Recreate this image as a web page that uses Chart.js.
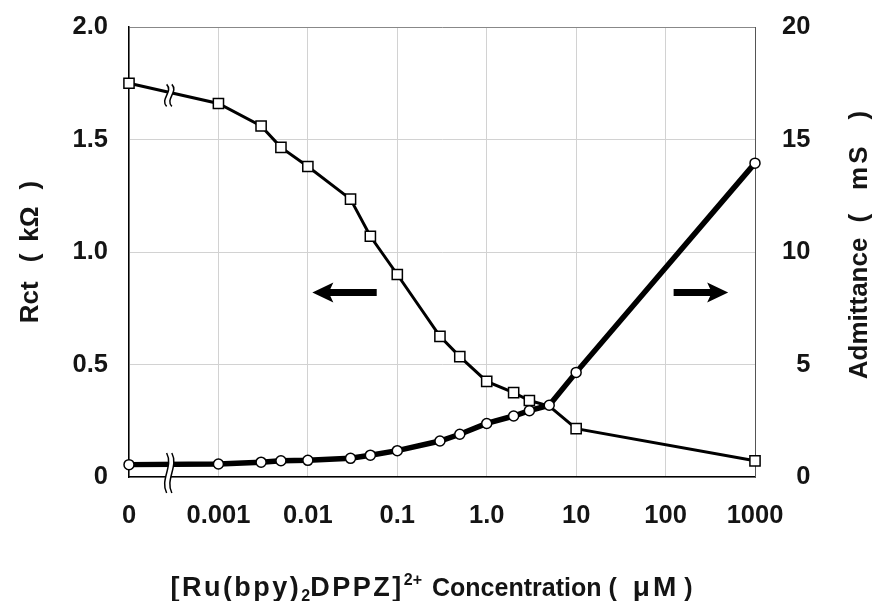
<!DOCTYPE html>
<html><head><meta charset="utf-8">
<script src="https://cdn.jsdelivr.net/npm/chart.js@4.4.1/dist/chart.umd.min.js"></script>
<style>html,body{margin:0;padding:0;background:#fff}#wrap{width:875px;height:601px}</style>
</head><body><div id="wrap"><canvas id="c" width="875" height="601"></canvas></div>
<script>
// ---- data ----
const concentrations = [0, 0.001, 0.003, 0.005, 0.01, 0.03, 0.05, 0.1, 0.3, 0.5, 1, 2, 3, 5, 10, 1000];
const rctValues = [1.75, 1.66, 1.56, 1.465, 1.38, 1.235, 1.07, 0.90, 0.625, 0.535, 0.425, 0.375, 0.34, 0.315, 0.215, 0.072];
const admittanceValues = [0.55, 0.58, 0.66, 0.72, 0.74, 0.83, 0.97, 1.17, 1.6, 1.9, 2.38, 2.71, 2.95, 3.19, 4.65, 13.95];
const xTickLabels = ['0', '0.001', '0.01', '0.1', '1.0', '10', '100', '1000'];

const FONT = "'Liberation Sans', Arial, 'Noto Sans CJK JP', sans-serif";
const TXT = '#141414';
const f = (size) => 'bold ' + size + 'px ' + FONT;

// titles (text pieces; gap = space before the piece in px)
const rctTitle = [
  { t: 'Rct', font: f(26) }, { t: '(', font: f(26), gap: 19 },
  { t: 'kΩ', font: f(26), gap: 12 }, { t: ')', font: f(26), gap: 17 }
];
const admTitle = [
  { t: 'Admittance', font: f(26) }, { t: '(', font: f(26), gap: 15 },
  { t: 'mS', font: f(26), gap: 24, ls: 3 }, { t: ')', font: f(26), gap: 24 }
];
const xTitleLeft = [
  { t: '[Ru(bpy)', font: f(27), ls: 2.5 }, { t: '2', font: f(16), dy: 5 },
  { t: 'DPPZ]', font: f(27), ls: 2.5 }, { t: '2+', font: f(16), dy: -11 }
];
const xTitleRight = [
  { t: 'Concentration', font: f(25) }, { t: '(', font: f(25), gap: 7 },
  { t: 'μM', font: f(28), gap: 16, ls: 3 }, { t: ')', font: f(25), gap: 5 }
];

// axis position: 0 for zero concentration, log10 decades otherwise (axis break between 0 and 0.001)
const toPos = c => c === 0 ? 0 : Math.log10(c) + 4;
const rctPoints = concentrations.map((c, i) => ({ x: toPos(c), y: rctValues[i] }));
const admPoints = concentrations.map((c, i) => ({ x: toPos(c), y: admittanceValues[i] }));

function pieceWidth(ctx, p) {
  ctx.font = p.font;
  ctx.letterSpacing = (p.ls || 0) + 'px';
  return ctx.measureText(p.t).width;
}
function piecesWidth(ctx, pieces) {
  return pieces.reduce((s, p) => s + (p.gap || 0) + pieceWidth(ctx, p), 0);
}
function drawPieces(ctx, pieces, x, y) {
  ctx.textAlign = 'left';
  ctx.fillStyle = TXT;
  for (const p of pieces) {
    x += p.gap || 0;
    const w = pieceWidth(ctx, p);
    ctx.fillText(p.t, x, y + (p.dy || 0));
    x += w;
  }
  ctx.letterSpacing = '0px';
  return x;
}

function drawBreak(ctx, cx, cy, h) {
  const g = 2.6, k = 7;
  const top = cy - h / 2, bot = cy + h / 2;
  ctx.save();
  ctx.beginPath();
  ctx.moveTo(cx - g, top);
  ctx.bezierCurveTo(cx - g + k, cy - h / 6, cx - g - k, cy + h / 6, cx - g, bot);
  ctx.lineTo(cx + g, bot);
  ctx.bezierCurveTo(cx + g - k, cy + h / 6, cx + g + k, cy - h / 6, cx + g, top);
  ctx.closePath();
  ctx.fillStyle = '#fff';
  ctx.fill();
  ctx.strokeStyle = '#000';
  ctx.lineWidth = 1.5;
  for (const d of [-g, g]) {
    ctx.beginPath();
    ctx.moveTo(cx + d, top);
    ctx.bezierCurveTo(cx + d + k, cy - h / 6, cx + d - k, cy + h / 6, cx + d, bot);
    ctx.stroke();
  }
  ctx.restore();
}
function drawArrow(ctx, x0, x1, y) {
  const dir = Math.sign(x1 - x0);
  const headL = 21, headH = 10, sh = 3.5, notch = 3;
  ctx.save();
  ctx.beginPath();
  ctx.moveTo(x0, y - sh);
  ctx.lineTo(x1 - dir * (headL - notch), y - sh);
  ctx.lineTo(x1 - dir * headL, y - headH);
  ctx.lineTo(x1, y);
  ctx.lineTo(x1 - dir * headL, y + headH);
  ctx.lineTo(x1 - dir * (headL - notch), y + sh);
  ctx.lineTo(x0, y + sh);
  ctx.closePath();
  ctx.fillStyle = '#000';
  ctx.fill();
  ctx.restore();
}

const decor = {
  id: 'decor',
  afterDatasetsDraw(chart) {
    const { ctx, scales: { x, y } } = chart;
    const bp = 0.45;
    const bx = x.getPixelForValue(bp);
    const rv = rctValues[0] + (rctValues[1] - rctValues[0]) * bp;
    drawBreak(ctx, bx, y.getPixelForValue(rv) + 3, 22);
    drawBreak(ctx, bx, y.getPixelForValue(0) - 4, 40);
    drawArrow(ctx, x.getPixelForValue(2.77), x.getPixelForValue(2.05), y.getPixelForValue(0.82));
    drawArrow(ctx, x.getPixelForValue(6.09), x.getPixelForValue(6.70), y.getPixelForValue(0.82));
  },
  afterDraw(chart) {
    const ctx = chart.ctx;
    const ca = chart.chartArea;
    const cxm = (ca.left + ca.right) / 2;
    const cym = (ca.top + ca.bottom) / 2;
    ctx.save();
    ctx.textBaseline = 'alphabetic';
    // x title
    const anchor = cxm - 10;
    const lw = piecesWidth(ctx, xTitleLeft);
    drawPieces(ctx, xTitleLeft, anchor - 10 - lw, 596);
    drawPieces(ctx, xTitleRight, anchor, 596);
    ctx.restore();

    // left y title (reads bottom to top)
    ctx.save();
    ctx.textBaseline = 'middle';
    ctx.translate(31, cym);
    ctx.rotate(-Math.PI / 2);
    drawPieces(ctx, rctTitle, -piecesWidth(ctx, rctTitle) / 2, 0);
    ctx.restore();

    // right y title (reads bottom to top)
    ctx.save();
    ctx.textBaseline = 'middle';
    ctx.translate(860, cym - 7);
    ctx.rotate(-Math.PI / 2);
    drawPieces(ctx, admTitle, -piecesWidth(ctx, admTitle) / 2, 0);
    ctx.restore();
  }
};

const tickFont = { family: FONT, size: 25.5, weight: 'bold' };
const fixVertical = w => s => { s.width = w; s.paddingTop = 0; s.paddingBottom = 0; };

new Chart(document.getElementById('c'), {
  type: 'line',
  data: {
    datasets: [
      {
        label: 'Admittance', data: admPoints, yAxisID: 'y1', order: 0,
        borderColor: '#000', borderWidth: 5.5, tension: 0,
        pointStyle: 'circle', pointRadius: 5, pointBorderWidth: 1.5,
        pointBackgroundColor: '#fff', pointBorderColor: '#000', clip: false
      },
      {
        label: 'Rct', data: rctPoints, yAxisID: 'y', order: 1,
        borderColor: '#000', borderWidth: 3, tension: 0,
        pointStyle: 'rect', pointRadius: c => (concentrations[c.dataIndex] === 5 ? 0 : 7.2),
        pointBorderWidth: 1.5, pointBackgroundColor: '#fff', pointBorderColor: '#000', clip: false
      }
    ]
  },
  options: {
    responsive: false, animation: false, devicePixelRatio: 1,
    layout: { autoPadding: false, padding: { top: 27, left: 0, right: 0, bottom: 0 } },
    plugins: { legend: { display: false }, tooltip: { enabled: false } },
    scales: {
      x: {
        type: 'linear', position: 'bottom', min: 0, max: 7,
        ticks: { stepSize: 1, autoSkip: false, maxRotation: 0, padding: 24, color: TXT, font: tickFont,
          callback: (v, i) => xTickLabels[i] },
        grid: { color: '#d2d2d2', lineWidth: 1, drawTicks: false },
        border: { color: '#000', width: 1.5 },
        afterFit: s => { s.height = 124; s.paddingLeft = 0; s.paddingRight = 0; }
      },
      y: {
        position: 'left', min: 0, max: 2,
        ticks: { stepSize: 0.5, padding: 21, color: TXT, font: tickFont,
          callback: v => (v === 0 ? '0' : v.toFixed(1)) },
        grid: { color: c => (c.tick && c.tick.value === 2 ? '#888' : '#d2d2d2'), lineWidth: 1, drawTicks: false },
        border: { color: '#000', width: 1.5 },
        afterFit: fixVertical(129)
      },
      y1: {
        position: 'right', min: 0, max: 20,
        ticks: { stepSize: 5, padding: 27, color: TXT, font: tickFont,
          callback: v => (v < 10 ? '\u2007' + v : '' + v) },
        grid: { display: false, drawTicks: false },
        border: { color: '#555', width: 1 },
        afterFit: fixVertical(120)
      }
    }
  },
  plugins: [decor]
});
</script>
</body></html>
